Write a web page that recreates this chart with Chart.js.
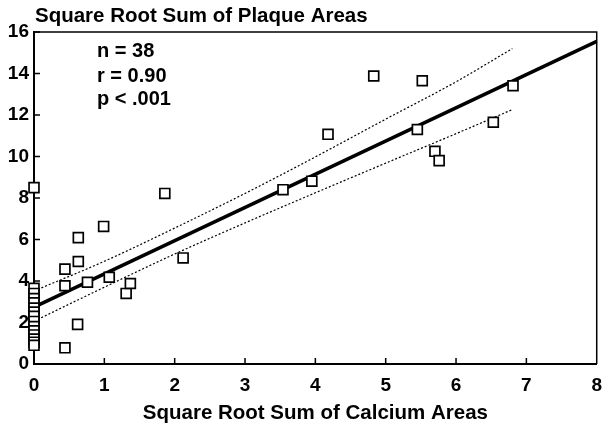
<!DOCTYPE html>
<html>
<head>
<meta charset="utf-8">
<script src="https://cdn.jsdelivr.net/npm/chart.js@4"></script>
<style>
    html, body { margin: 0; padding: 0; background: #fff; }
</style>
</head>
<body>
<canvas id="myChart" width="612" height="432"></canvas>
<script>
// data
const calciumX = [0, 0, 0, 0, 0, 0, 0, 0, 0, 0, 0, 0, 0, 0, 0,
    0.44, 0.44, 0.44, 0.62, 0.63, 0.63, 0.76, 0.99, 1.07, 1.31, 1.37, 1.86, 2.12,
    3.54, 3.95, 4.18, 4.83, 5.45, 5.52, 5.70, 5.76, 6.53, 6.81]
const plaqueY = [8.5, 3.65, 3.4, 3.15, 2.95, 2.7, 2.5, 2.3, 2.05, 1.8, 1.6, 1.4, 1.2, 1.05, 0.9,
    0.78, 3.77, 4.57, 1.91, 4.94, 6.09, 3.94, 6.63, 4.18, 3.4, 3.88, 8.22, 5.11,
    8.4, 8.81, 11.07, 13.88, 11.3, 13.65, 10.25, 9.8, 11.65, 13.41]

const fitX = [0, 8]
const fitY = [2.74, 15.55]

const bandX = [0, 1, 2, 3, 4, 5, 6, 6.8]
const upperY = [3.52, 4.95, 6.55, 8.22, 9.98, 11.8, 13.6, 15.2]
const lowerY = [2.06, 3.7, 5.3, 6.8, 8.25, 9.68, 11.1, 12.26]

const xTicks = [0, 1, 2, 3, 4, 5, 6, 7, 8]
const yTicks = [0, 2, 4, 6, 8, 10, 12, 14, 16]

const titleText = "Square Root Sum of Plaque Areas"
const xTitleText = "Square Root Sum of Calcium Areas"
const statLines = ["n = 38", "r = 0.90", "p < .001"]

const fontFamily = '"Liberation Sans", Arial, Helvetica, sans-serif'

function toPoints(xs, ys) {
    return xs.map((x, i) => ({ x: x, y: ys[i] }))
}

const extras = {
    id: 'extras',
    beforeDatasetsDraw(chart) {
        const ctx = chart.ctx
        const area = chart.chartArea
        const xs = chart.scales.x
        const ys = chart.scales.y
        ctx.save()
        ctx.strokeStyle = '#000'
        ctx.lineWidth = 1.5
        ctx.beginPath()
        ctx.moveTo(area.left, area.top)
        ctx.lineTo(area.right, area.top)
        ctx.lineTo(area.right, area.bottom)
        ctx.stroke()
        // inward tick marks
        ctx.beginPath()
        yTicks.slice(1).forEach(v => {
            const py = ys.getPixelForValue(v)
            ctx.moveTo(area.left, py)
            ctx.lineTo(area.left + 6, py)
        })
        xTicks.slice(1, -1).forEach(v => {
            const px = xs.getPixelForValue(v)
            ctx.moveTo(px, area.bottom)
            ctx.lineTo(px, area.bottom - 6)
        })
        ctx.stroke()
        ctx.restore()
    },
    afterDraw(chart) {
        const ctx = chart.ctx
        ctx.save()
        ctx.fillStyle = '#000'
        ctx.textBaseline = 'alphabetic'
        ctx.font = 'bold 20.5px ' + fontFamily
        ctx.textAlign = 'left'
        ctx.fillText(titleText, 35, 22)
        ctx.textAlign = 'center'
        ctx.fillText(xTitleText, (chart.chartArea.left + chart.chartArea.right) / 2, 419)
        ctx.textAlign = 'left'
        ctx.font = 'bold 20px ' + fontFamily
        const baselines = [57, 82, 105]
        statLines.forEach((t, i) => ctx.fillText(t, 97, baselines[i]))
        ctx.restore()
    }
}

new Chart("myChart", {
    type: "scatter",
    data: {
        datasets: [{
            label: 'points',
            data: toPoints(calciumX, plaqueY),
            pointStyle: 'rect',
            pointRadius: 7,
            pointBorderWidth: 1.7,
            pointBorderColor: '#000',
            pointBackgroundColor: '#fff',
            showLine: false,
            clip: false,
            order: 0
        }, {
            label: 'fit',
            type: 'line',
            data: toPoints(fitX, fitY),
            borderColor: '#000',
            borderWidth: 3.5,
            pointRadius: 0,
            fill: false,
            clip: false,
            order: 1
        }, {
            label: 'upper',
            type: 'line',
            data: toPoints(bandX, upperY),
            borderColor: '#000',
            borderWidth: 1.2,
            borderDash: [2, 2],
            pointRadius: 0,
            cubicInterpolationMode: 'monotone',
            fill: false,
            order: 2
        }, {
            label: 'lower',
            type: 'line',
            data: toPoints(bandX, lowerY),
            borderColor: '#000',
            borderWidth: 1.2,
            borderDash: [2, 2],
            pointRadius: 0,
            cubicInterpolationMode: 'monotone',
            fill: false,
            order: 3
        }]
    },
    options: {
        responsive: false,
        animation: false,
        devicePixelRatio: 1,
        layout: { padding: { top: 32, right: 14, left: 0, bottom: 0 } },
        plugins: {
            legend: { display: false },
            tooltip: { enabled: false },
            title: { display: false }
        },
        scales: {
            x: {
                type: 'linear',
                min: 0,
                max: 8,
                afterFit: scale => { scale.height = 68 },
                afterBuildTicks: scale => { scale.ticks = xTicks.map(v => ({ value: v })) },
                grid: { drawOnChartArea: false, drawTicks: false },
                border: { display: true, color: '#000', width: 2 },
                ticks: {
                    padding: 10,
                    color: '#000',
                    font: { family: fontFamily, size: 19, weight: 'bold' }
                }
            },
            y: {
                type: 'linear',
                min: 0,
                max: 16,
                afterFit: scale => { scale.width = 34 },
                afterBuildTicks: scale => { scale.ticks = yTicks.map(v => ({ value: v })) },
                grid: { drawOnChartArea: false, drawTicks: false },
                border: { display: true, color: '#000', width: 2 },
                ticks: {
                    padding: 5,
                    color: '#000',
                    font: { family: fontFamily, size: 19, weight: 'bold' }
                }
            }
        }
    },
    plugins: [extras]
})
</script>
</body>
</html>
